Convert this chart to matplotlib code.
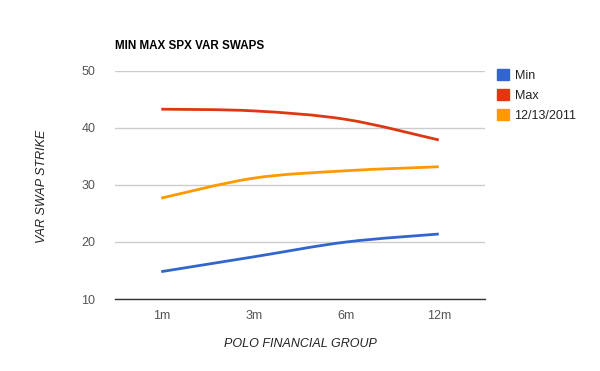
import matplotlib
matplotlib.use("Agg")
import matplotlib.pyplot as plt
from matplotlib.path import Path
from matplotlib.patches import PathPatch, Patch
import numpy as np

plt.rcParams['font.family'] = ['Liberation Sans', 'DejaVu Sans']

categories = ["1m", "3m", "6m", "12m"]
series_names = ["Min", "Max", "12/13/2011"]
min_vals = [14.8, 17.4, 20.0, 21.4]
max_vals = [43.3, 43.0, 41.5, 37.9]
date_vals = [27.7, 31.2, 32.5, 33.2]
colors = ["#3366cc", "#dc3912", "#ff9900"]
yticks = [10, 20, 30, 40, 50]

fig = plt.figure(figsize=(6, 3.71), dpi=100)
ax = fig.add_axes([115/600, 1-299/371, 370/600, 228/371])

def smooth_path(xs, ys, t=1/6):
    pts = np.column_stack([xs, ys]).astype(float)
    n = len(pts)
    verts = [pts[0]]
    codes = [Path.MOVETO]
    for i in range(n - 1):
        p_prev = pts[i-1] if i > 0 else pts[i]
        p0 = pts[i]
        p1 = pts[i+1]
        p_next = pts[i+2] if i + 2 < n else pts[i+1]
        c1 = p0 + (p1 - p_prev) * t
        c2 = p1 - (p_next - p0) * t
        verts += [c1, c2, p1]
        codes += [Path.CURVE4] * 3
    return Path(verts, codes)

xs = np.arange(len(categories))
handles = []
for vals, c, name in zip([min_vals, max_vals, date_vals], colors, series_names):
    patch = PathPatch(smooth_path(xs, vals), facecolor='none', edgecolor=c, lw=2, zorder=3)
    ax.add_patch(patch)
    handles.append(Patch(facecolor=c, edgecolor=c, label=name))

ax.set_xlim(-0.5, len(categories) - 0.5)
ax.set_ylim(10, 50)
ax.set_yticks(yticks)
ax.set_xticks(xs)
ax.set_xticklabels(categories)
ax.grid(axis='y', color='#cccccc', lw=1)
ax.set_axisbelow(True)
for s in ['top', 'right', 'left']:
    ax.spines[s].set_visible(False)
ax.spines['bottom'].set_color('#333333')
ax.spines['bottom'].set_linewidth(1)
ax.spines['bottom'].set_zorder(4)
ax.tick_params(axis='both', length=0, labelsize=9, colors='#555555')
ax.tick_params(axis='y', pad=14)
ax.tick_params(axis='x', pad=8)

fig.text(115/600, 1-46/371, "MIN MAX SPX VAR SWAPS", fontsize=8.4, fontweight='bold',
         color='black', ha='left', va='center')
fig.text(300/600, 1-344/371, "POLO FINANCIAL GROUP", fontsize=9, style='italic',
         color='#222222', ha='center', va='center')
fig.text(42/600, 1-186/371, "VAR SWAP STRIKE", fontsize=9, style='italic',
         color='#222222', ha='center', va='center', rotation=90)

leg = fig.legend(handles=handles, loc='upper left', bbox_to_anchor=(497/600, 1-69/371),
                 frameon=False, fontsize=9, handlelength=0.95, handleheight=0.95,
                 handletextpad=0.45, labelspacing=0.6, borderaxespad=0, borderpad=0)
for t in leg.get_texts():
    t.set_color('#222222')

fig.savefig("out.png", dpi=100)
